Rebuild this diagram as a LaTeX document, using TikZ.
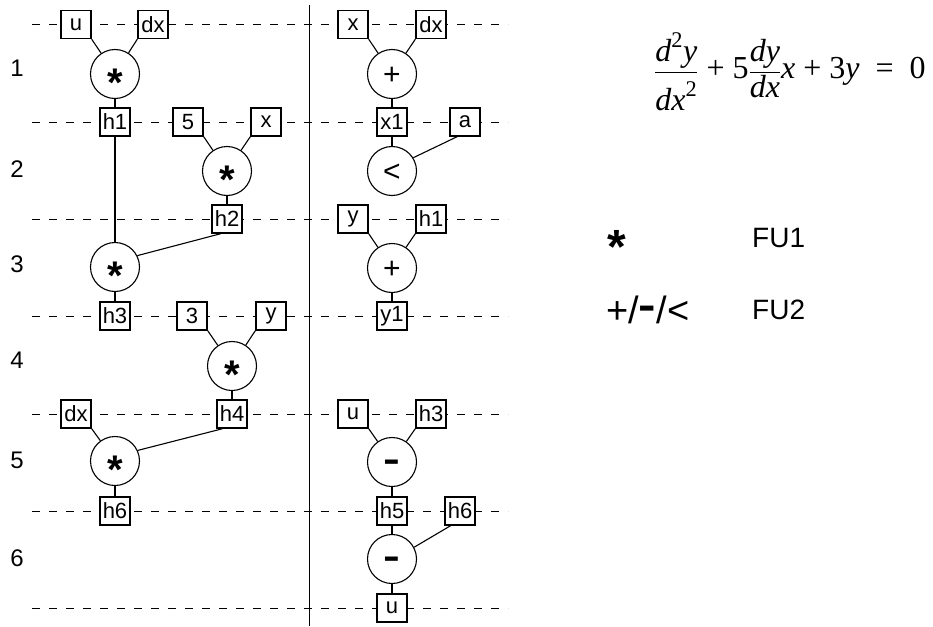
\documentclass[tikz,border=0pt]{standalone}
\usepackage{amsmath}
\usepackage{fontspec}
\setmainfont{Liberation Sans}
\newfontfamily\eqfont{Liberation Serif}
\usetikzlibrary{calc}

\newcommand{\opsym}[3]{\smash{\fontsize{#1}{#1}\selectfont\raisebox{-#2em}{#3}}}
\newcommand{\boldminus}{\scalebox{1.4}[1]{\bfseries -}}
\newcommand{\opmul}{\opsym{40}{0.56}{\bfseries *}}
\newcommand{\opadd}{\opsym{30}{0.35}{+}}
\newcommand{\oplt}{\opsym{30}{0.35}{<}}
\newcommand{\opsub}{\opsym{36}{0.26}{\boldminus}}

\begin{document}
\begin{tikzpicture}[x=1pt,y=-1pt]
        \tikzstyle{every node}+=[inner sep=0pt]
        \tikzstyle{reg}=[draw,line width=1.4pt,fill=white,minimum width=30pt,minimum height=28pt,font=\fontsize{22}{22}\selectfont]
        \tikzstyle{fu}=[draw,circle,line width=1.1pt,fill=white,minimum size=49pt]
        \tikzstyle{wire}=[line width=1.1pt]
        \tikzstyle{cstep}=[dash pattern=on 8pt off 9pt,line width=0.9pt]
        \tikzstyle{stepnum}=[font=\fontsize{24}{24}\selectfont]
        \tikzstyle{legend}=[font=\fontsize{28}{28}\selectfont,anchor=west]
        \useasboundingbox (0,0) rectangle (933,626);
        \foreach \y in {24.5,122,219,316,414,511,608}
            \draw [cstep] (32,\y) -- (508,\y);
        \draw [line width=1pt] (309,5) -- (309,626);
        \node [stepnum] (r1) at (17,68) {1};
        \node [stepnum] (r2) at (17,169) {2};
        \node [stepnum] (r3) at (17,264) {3};
        \node [stepnum] (r4) at (17,360) {4};
        \node [stepnum] (r5) at (17,460) {5};
        \node [stepnum] (r6) at (17,558) {6};
        \node [reg] (u1) at (76,24.5) {u};
        \node [reg] (dx1) at (153,24.5) {dx};
        \node [fu] (m1) at (115,74) {\opmul};
        \node [reg] (h1) at (115,122) {h1};
        \node [reg] (c5) at (188,122) {5};
        \node [reg] (x1) at (266,122) {x};
        \node [fu] (m2) at (227,171) {\opmul};
        \node [reg] (h2) at (227,219) {h2};
        \node [fu] (m3) at (115,267) {\opmul};
        \node [reg] (h3) at (115,316) {h3};
        \node [reg] (c3) at (192,316) {3};
        \node [reg] (y1) at (271,316) {y};
        \node [fu] (m4) at (232,366) {\opmul};
        \node [reg] (h4) at (232,414) {h4};
        \node [reg] (dx2) at (76,414) {dx};
        \node [fu] (m5) at (115,461) {\opmul};
        \node [reg] (h6) at (115,511) {h6};
        \node [reg] (x2) at (353,24.5) {x};
        \node [reg] (dx3) at (431,24.5) {dx};
        \node [fu] (a1) at (392,74) {\opadd};
        \node [reg] (xo) at (392,122) {x1};
        \node [reg] (ca) at (465,122) {a};
        \node [fu] (lt) at (392,171) {\oplt};
        \node [reg] (y2) at (353,219) {y};
        \node [reg] (h1b) at (431,219) {h1};
        \node [fu] (a2) at (392,268) {\opadd};
        \node [reg] (yo) at (392,316) {y1};
        \node [reg] (u2) at (353,414) {u};
        \node [reg] (h3b) at (431,414) {h3};
        \node [fu] (s1) at (392,462) {\opsub};
        \node [reg] (h5) at (392,511) {h5};
        \node [reg] (h6b) at (460,511) {h6};
        \node [fu] (s2) at (392,559) {\opsub};
        \node [reg] (uo) at (392,608) {u};
        \draw [wire] (u1.south east) -- (m1);
        \draw [wire] (dx1.south west) -- (m1);
        \draw [wire] (m1) -- (h1);
        \draw [wire] (c5.south east) -- (m2);
        \draw [wire] (x1.south west) -- (m2);
        \draw [wire] (m2) -- (h2);
        \draw [wire] (h1) -- (m3);
        \draw [wire] (m3.27) -- ($(h2.south)!0.4!(h2.south west)$);
        \draw [wire] (m3) -- (h3);
        \draw [wire] (c3.south east) -- (m4);
        \draw [wire] (y1.south west) -- (m4);
        \draw [wire] (m4) -- (h4);
        \draw [wire] (dx2.south east) -- (m5);
        \draw [wire] (m5.25) -- ($(h4.south)!0.6!(h4.south west)$);
        \draw [wire] (m5) -- (h6);
        \draw [wire] (x2.south east) -- (a1);
        \draw [wire] (dx3.south west) -- (a1);
        \draw [wire] (a1) -- (xo);
        \draw [wire] (xo) -- (lt);
        \draw [wire] (lt.32) -- ($(ca.south)!0.5!(ca.south west)$);
        \draw [wire] (y2.south east) -- (a2);
        \draw [wire] (h1b.south west) -- (a2);
        \draw [wire] (a2) -- (yo);
        \draw [wire] (u2.south east) -- (s1);
        \draw [wire] (h3b.south west) -- (s1);
        \draw [wire] (s1) -- (h5);
        \draw [wire] (h5) -- (s2);
        \draw [wire] (s2.28) -- ($(h6b.south)!0.6!(h6b.south west)$);
        \draw [wire] (s2) -- (uo);
        \node (eq) at (790,72) {\fontsize{32}{38}\selectfont\eqfont
            $\dfrac{\text{\itshape d}^{\text{2}}\text{\itshape y}}{\rule{0pt}{1.1em}\text{\itshape dx}^{\text{2}}}
            \text{ + 5}\dfrac{\text{\itshape dy}}{\text{\itshape dx}}\text{\itshape x}\text{ + 3\itshape y}\text{ \ = \ 0}$};
        \node (lgmul) at (617,237) {\opsym{48}{0.56}{\bfseries *}};
        \node [legend] (lgop) at (606,310) {\fontsize{38}{38}\selectfont +/{\fontsize{42}{42}\selectfont\raisebox{4pt}{\scalebox{1.25}[1]{\bfseries -}}}/<};
        \node [legend] (lgfu1) at (752,238) {FU1};
        \node [legend] (lgfu2) at (752,310) {FU2};
\end{tikzpicture}
\end{document}
